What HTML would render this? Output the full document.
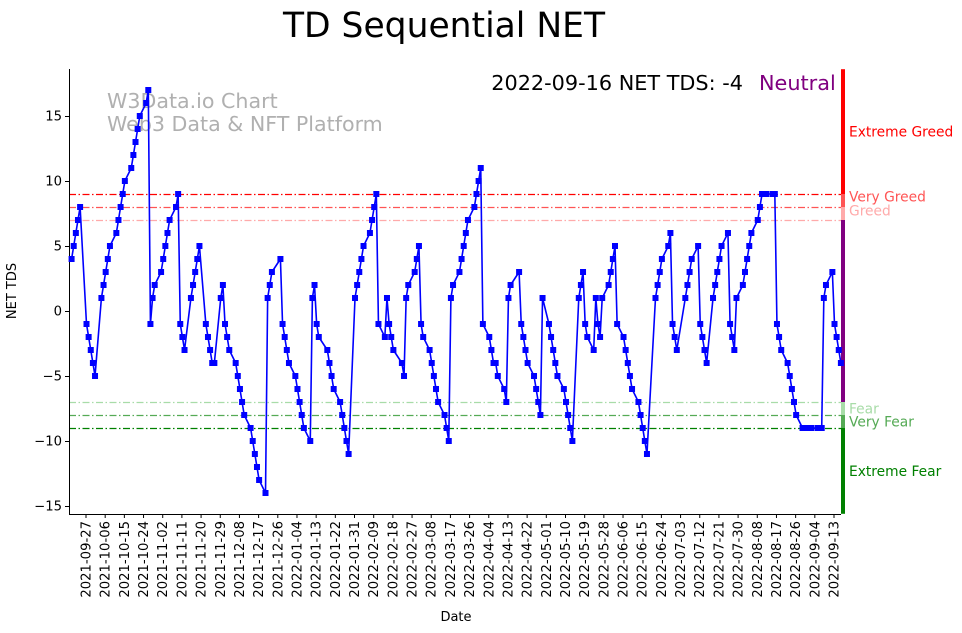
<!DOCTYPE html>
<html><head><meta charset="utf-8"><style>
body{margin:0;background:#fff;}
svg{display:block;font-family:"DejaVu Sans","Liberation Sans",sans-serif;}
</style></head><body>
<svg id="chart" width="962" height="633">
<text x="444" y="37" font-size="34.5" text-anchor="middle">TD Sequential NET</text>
<text x="107" y="108" font-size="20.6" fill="#b0b0b0">W3Data.io Chart</text>
<text x="107" y="131" font-size="20.6" fill="#b0b0b0">Web3 Data &amp; NFT Platform</text>
<text x="743" y="90" font-size="20.8" text-anchor="end">2022-09-16 NET TDS: -4</text>
<text x="759" y="90" font-size="20.8" fill="purple">Neutral</text>
<text x="16" y="291" font-size="13" text-anchor="middle" transform="rotate(-90 16 291)">NET TDS</text>
<text x="456" y="621" font-size="13" text-anchor="middle">Date</text>
<g id="g"></g>
</svg>
<script>
const values = [4,5,6,7,8,-1,-2,-3,-4,-5,1,2,3,4,5,6,7,8,9,10,11,12,13,14,15,16,17,-1,1,2,3,4,5,6,7,8,9,-1,-2,-3,1,2,3,4,5,
-1,-2,-3,-4,-4,1,2,-1,-2,-3,-4,-5,-6,-7,-8,-9,-10,-11,-12,-13,-14,1,2,3,4,-1,-2,-3,-4,-5,-6,-7,-8,-9,-10,1,2,-1,-2,-3,-4,-5,-6,-7,-8,-9,-10,-11,1,2,3,4,5,6,7,8,9,-1,-2,1,-1,-2,-3,-4,-5,1,2,3,4,5,-1,
-2,-3,-4,-5,-6,-7,-8,-9,-10,1,2,3,4,5,6,7,8,9,10,11,-1,-2,-3,-4,-4,-5,-6,-7,1,2,3,-1,-2,-3,-4,-5,-6,-7,-8,1,-1,-2,-3,-4,-5,-6,-7,-8,-9,-10,1,2,3,
-1,-2,-3,1,-1,-2,1,2,3,4,5,-1,-2,-3,-4,-5,-6,-7,-8,-9,-10,-11,1,2,3,4,5,6,-1,-2,-3,1,2,3,4,5,-1,-2,-3,-4,
1,2,3,4,5,6,-1,-2,-3,1,2,3,4,5,6,7,8,9,9,9,9,9,-1,-2,-3,-4,-5,-6,-7,-8,-9,-9,-9,-9,-9,-9,-9,-9,1,2,3,-1,-2,-3,-4];
const startDate = "2021-09-20";
const holidays = ["2021-12-24","2022-01-17","2022-02-21","2022-04-15","2022-06-20","2022-07-04"];
const firstTick = "2021-09-27";
const tickStepDays = 9;
const tickCount = 40;
const yTicks = [15,10,5,0,-5,-10,-15];
const levels = [9,8,7,-7,-8,-9];
const levelColors = ["#ff0000","#ff5555","#ffaaaa","#a8dca8","#55aa55","#008000"];
const zoneLabels = ["Extreme Greed","Very Greed","Greed","Fear","Very Fear","Extreme Fear"];
const zoneLabelValues = [13.8,8.8,7.75,-7.5,-8.5,-12.3];

const NS="http://www.w3.org/2000/svg", g=document.getElementById('g');
const L=69,R=841,T=69,B=514;
const DAY=86400000, d0=Date.parse(startDate);
const tick0=Date.parse(firstTick), pxPerDay=(834-86)/351;
function xDate(t){return 86+(t-tick0)/DAY*pxPerDay;}
function y(v){return 311-v*13;}
function el(tag,attrs,parent){const e=document.createElementNS(NS,tag);for(const k in attrs)e.setAttribute(k,attrs[k]);(parent||g).appendChild(e);return e;}

const dates=[];
for(let t=d0;dates.length<values.length;t+=DAY){
  const wd=new Date(t).getUTCDay();
  const s=new Date(t).toISOString().slice(0,10);
  if(wd===0||wd===6||holidays.includes(s))continue;
  dates.push(t);
}

levels.forEach((lv,i)=>{
  const ln=el('line',{x1:L,x2:R,y1:y(lv)+0.5,y2:y(lv)+0.5,stroke:levelColors[i],'stroke-width':1.2,'stroke-dasharray':'7 2.5 1.5 2.5'});
  
  
});
const bars=[[18.6,9,"#ff0000"],[9,8,"#ff5555"],[8,7,"#ffaaaa"],[7,-7,"purple"],[-7,-8,"#a8dca8"],[-8,-9,"#55aa55"],[-9,-15.6,"#008000"]];
bars.forEach((b,i)=>{
  const r=el('rect',{x:841,y:y(b[0]),width:4,height:y(b[1])-y(b[0]),fill:b[2]});
  
  
});
zoneLabels.forEach((s,i)=>{
  const t=el('text',{x:849,y:y(zoneLabelValues[i])+5,'font-size':13.8,fill:levelColors[i]});
  t.textContent=s;
  
  
});
const ax=el('path',{d:`M${L+0.5} ${T}V${B+0.5}H${R}`,fill:'none',stroke:'#000','stroke-width':1});


yTicks.forEach(v=>{
  el('line',{x1:L-4,x2:L,y1:y(v)+0.5,y2:y(v)+0.5,stroke:'#000'});
  const t=el('text',{x:L-7,y:y(v)+4.5,'font-size':13.2,'text-anchor':'end'});
  t.textContent=String(v).replace('-','\u2212');
  
  
});
for(let k=0;k<tickCount;k++){
  const t0=tick0+k*tickStepDays*DAY, x=xDate(t0);
  el('line',{x1:x,x2:x,y1:B,y2:B+4,stroke:'#000'});
  const s=new Date(t0).toISOString().slice(0,10);
  const t=el('text',{x:x+4.5,y:B+7,'font-size':13.2,'text-anchor':'end',transform:`rotate(-90 ${x+4.5} ${B+7})`});
  t.textContent=s;
  
  
}
const pts=values.map((v,i)=>[xDate(dates[i])+0.5,y(v)]);
const line=el('polyline',{points:pts.map(p=>p.join(',')).join(' '),fill:'none',stroke:'#0000ff','stroke-width':1.6,'stroke-linejoin':'round'});


pts.forEach(p=>{
  const m=el('rect',{x:p[0]-3,y:p[1]-3,width:6,height:6,fill:'#0000ff'});
  
  
});
</script>
</body></html>
